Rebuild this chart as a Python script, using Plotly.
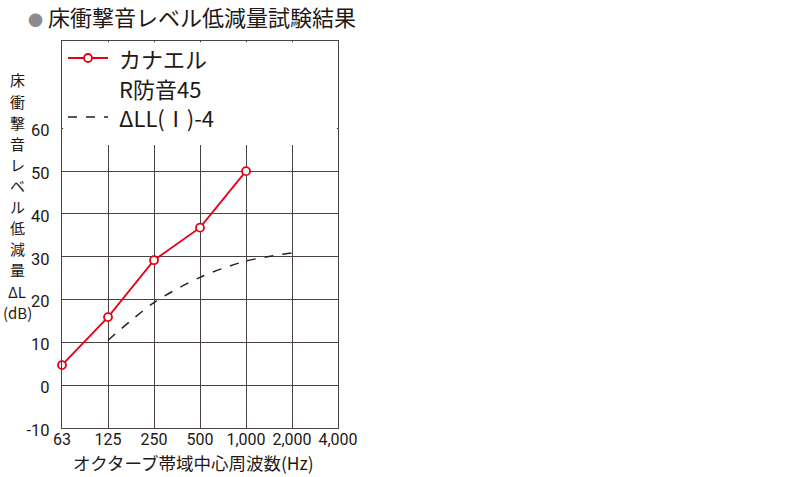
import plotly.graph_objects as go

categories = ["63", "125", "250", "500", "1,000", "2,000", "4,000"]
kanaeru_x = ["63", "125", "250", "500", "1,000"]
kanaeru_y = [4.7, 15.9, 29.2, 36.8, 50.0]
dll_x = ["125", "250", "500", "1,000", "2,000"]
dll_y = [10.5, 19.3, 25.2, 29.0, 30.9]
y_ticks = [-10, 0, 10, 20, 30, 40, 50, 60]
y_ticklabels = ["-10", "0", "10", "20", "30", "40", "50", "60"]
y_title = ["床", "衝", "撃", "音", "レ", "ベ", "ル", "低", "減", "量", "ΔL", "(dB)"]

pos = {c: i for i, c in enumerate(categories)}
RED = "#e60012"
GRID = "#4a4242"
TXT = "#231815"
JP = "Noto Sans CJK JP"
NUM = "Roboto, sans-serif"

L, R, T, B = 62, 338, 41, 428
W, H = R - L, B - T


def px(x):
    return (x - L) / W


def py(y):
    return (B - y) / H


fig = go.Figure()
fig.add_trace(go.Scatter(
    x=[pos[c] for c in dll_x], y=dll_y, mode="lines",
    line=dict(color="#222222", width=1.5, dash="dash", shape="spline", smoothing=0.8),
    cliponaxis=False, showlegend=False))
fig.add_trace(go.Scatter(
    x=[pos[c] for c in kanaeru_x], y=kanaeru_y, mode="lines+markers",
    line=dict(color=RED, width=1.8),
    marker=dict(symbol="circle", size=8, color="white", line=dict(color=RED, width=1.8)),
    cliponaxis=False, showlegend=False))

fig.update_xaxes(range=[0, 6], tickmode="array", tickvals=list(range(len(categories))),
                 ticktext=categories, showgrid=True, gridcolor=GRID, gridwidth=1.3,
                 showline=True, linecolor=GRID, linewidth=1.3, mirror=True, zeroline=False,
                 ticks="", automargin=False, tickangle=0, ticklabelstandoff=-3,
                 tickfont=dict(family=NUM, size=16, color=TXT))
fig.update_yaxes(range=[-10, 80.4], tickmode="array", tickvals=y_ticks, ticktext=y_ticklabels,
                 showgrid=True, gridcolor=GRID, gridwidth=1.3,
                 showline=True, linecolor=GRID, linewidth=1.3, mirror=True, zeroline=False,
                 ticks="", automargin=False, ticklabelstandoff=8, ticklabelshift=2,
                 tickfont=dict(family=NUM, size=16.5, color=TXT))

shapes = [
    dict(type="rect", xref="paper", yref="paper", x0=0.004, x1=0.996, y0=py(145), y1=0.997,
         fillcolor="white", line=dict(width=0), layer="above"),
    dict(type="line", xref="paper", yref="paper", x0=px(68), x1=px(108),
         y0=py(58), y1=py(58), line=dict(color=RED, width=1.8), layer="above"),
    dict(type="circle", xref="paper", yref="paper", x0=px(84), x1=px(92),
         y0=py(62), y1=py(54), fillcolor="white",
         line=dict(color=RED, width=1.8), layer="above"),
    dict(type="line", xref="paper", yref="paper", x0=px(68), x1=px(108),
         y0=py(117), y1=py(117),
         line=dict(color="#222222", width=1.5, dash="dash"), layer="above"),
]

annotations = [
    dict(text="<span style='color:#8c8c8c;font-size:15px'>●</span> 床衝撃音レベル低減量試験結果",
         xref="paper", yref="paper", x=px(26), y=py(16), xanchor="left", yanchor="middle",
         showarrow=False, font=dict(family=JP, size=22, color=TXT)),
    dict(text="カナエル", xref="paper", yref="paper", x=px(117), y=py(58),
         xanchor="left", yanchor="middle", showarrow=False, font=dict(family=JP, size=22, color=TXT)),
    dict(text="R防音45", xref="paper", yref="paper", x=px(117), y=py(88),
         xanchor="left", yanchor="middle", showarrow=False, font=dict(family=JP, size=22, color=TXT)),
    dict(text="ΔLL(Ⅰ)-4", xref="paper", yref="paper", x=px(117), y=py(117),
         xanchor="left", yanchor="middle", showarrow=False, font=dict(family=JP, size=22, color=TXT)),
    dict(text="オクターブ帯域中心周波数(Hz)", xref="paper", yref="paper",
         x=px(193), y=py(477), xanchor="center", yanchor="bottom", showarrow=False,
         font=dict(family=JP, size=17.5, color=TXT)),
]
for i, ch in enumerate(y_title):
    annotations.append(dict(text=ch, xref="paper", yref="paper", x=px(17), y=py(80 + 21.1 * i),
                            xanchor="center", yanchor="middle", showarrow=False,
                            font=dict(family=JP, size=15, color=TXT)))

fig.update_layout(width=800, height=477, margin=dict(l=L, r=800 - R, t=T, b=477 - B, autoexpand=False),
                  plot_bgcolor="white", paper_bgcolor="white",
                  shapes=shapes, annotations=annotations, showlegend=False)
fig.write_html("out.html", config={"displayModeBar": False},
               post_script="document.body.style.margin='0';document.body.style.overflow='hidden';")
